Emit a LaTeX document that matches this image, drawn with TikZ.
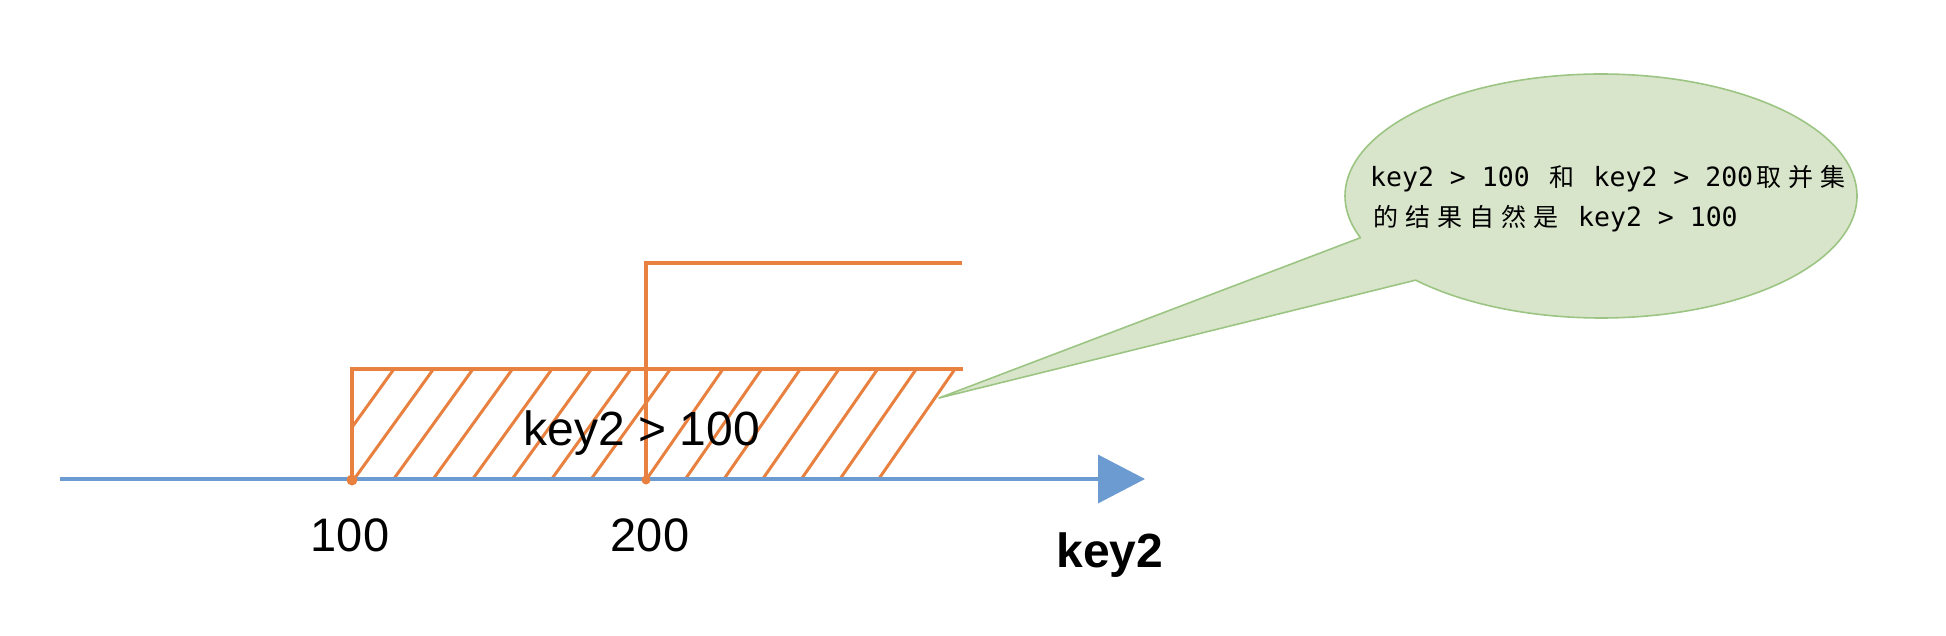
\documentclass[tikz,border=0pt]{standalone}
\usepackage{fontspec}
\setmainfont{Liberation Sans}
\newfontfamily\cjkfont{Noto Sans CJK SC}
\newfontfamily\monofnt{DejaVu Sans Mono}
\usetikzlibrary{arrows.meta}
\definecolor{axisblue}{HTML}{6C9BD2}
\definecolor{rangeorange}{HTML}{E8803F}
\definecolor{notefill}{HTML}{D8E5CB}
\definecolor{notedraw}{HTML}{9CC583}
\newcommand\cjc[1]{\makebox[32pt]{\cjkfont\fontsize{25pt}{30pt}\selectfont #1}}
\newcommand\mono[1]{{\monofnt\fontsize{26.5pt}{30pt}\selectfont #1}}
\tikzset{
  axisline/.style={draw=axisblue, line width=3.5pt},
  rangeline/.style={draw=rangeorange, line width=3.5pt},
  hatchline/.style={draw=rangeorange, line width=3pt},
  ticklabel/.style={inner sep=0pt, font=\fontsize{47pt}{56pt}\selectfont},
  condlabel/.style={inner sep=0pt, font=\fontsize{48pt}{56pt}\selectfont},
  axislabel/.style={inner sep=0pt, font=\bfseries\fontsize{48pt}{56pt}\selectfont},
  notetext/.style={inner sep=0pt, anchor=base west},
  notebubble/.style={fill=notefill, draw=notedraw, line width=1.6pt, line join=round},
}
\begin{document}
\begin{tikzpicture}[x=1pt,y=-1pt]
\useasboundingbox (0,0) rectangle (1946,636);

% callout bubble
\path[notebubble] plot[domain=160:496.4, samples=240, smooth] ({1601+256*cos(\x)}, {196+122*sin(\x)}) -- (939,398) -- cycle;
\node[notetext] (note1) at (1370,187) {\mono{key2\ >\ 100\ }\cjc{和}\mono{\ key2\ >\ 200}\cjc{取}\cjc{并}\cjc{集}};
\node[notetext] (note2) at (1370,227) {\cjc{的}\cjc{结}\cjc{果}\cjc{自}\cjc{然}\cjc{是}\mono{\ key2\ >\ 100}};

% hatching of the range key2 > 100
\begin{scope}
  \clip (352,369) rectangle (963,480);
  \foreach \t in {394,433.5,473,512.5,552,591.5,631,670.5}
    \draw[hatchline] (\t-80,480) -- (\t,369);
  \foreach \b in {646,684.7,723.3,762,800.7,839.3,878}
    \draw[hatchline] (\b,480) -- (\b+77,369);
\end{scope}

% range outlines
\draw[rangeline] (352,480) -- (352,369) -- (963,369);
\draw[rangeline] (646,480) -- (646,263) -- (962,263);

% axis
\coordinate (axL) at (60,479);
\coordinate (axR) at (1145,479);
\draw[axisline, -{Triangle[length=47pt,width=48pt]}] (axL) -- (axR);

% points on the axis
\fill[rangeorange] (352,480) circle (5.5);
\fill[rangeorange] (646,480) circle (4.5);

% labels
\node[ticklabel] (n100) at (350,535.5) {100};
\node[ticklabel] (n200) at (650,535.5) {200};
\node[condlabel, anchor=base] (cond) at (642,445) {key2 > 100};
\node[axislabel, anchor=base] (keyaxis) at (1110,567) {key2};
\end{tikzpicture}
\end{document}
